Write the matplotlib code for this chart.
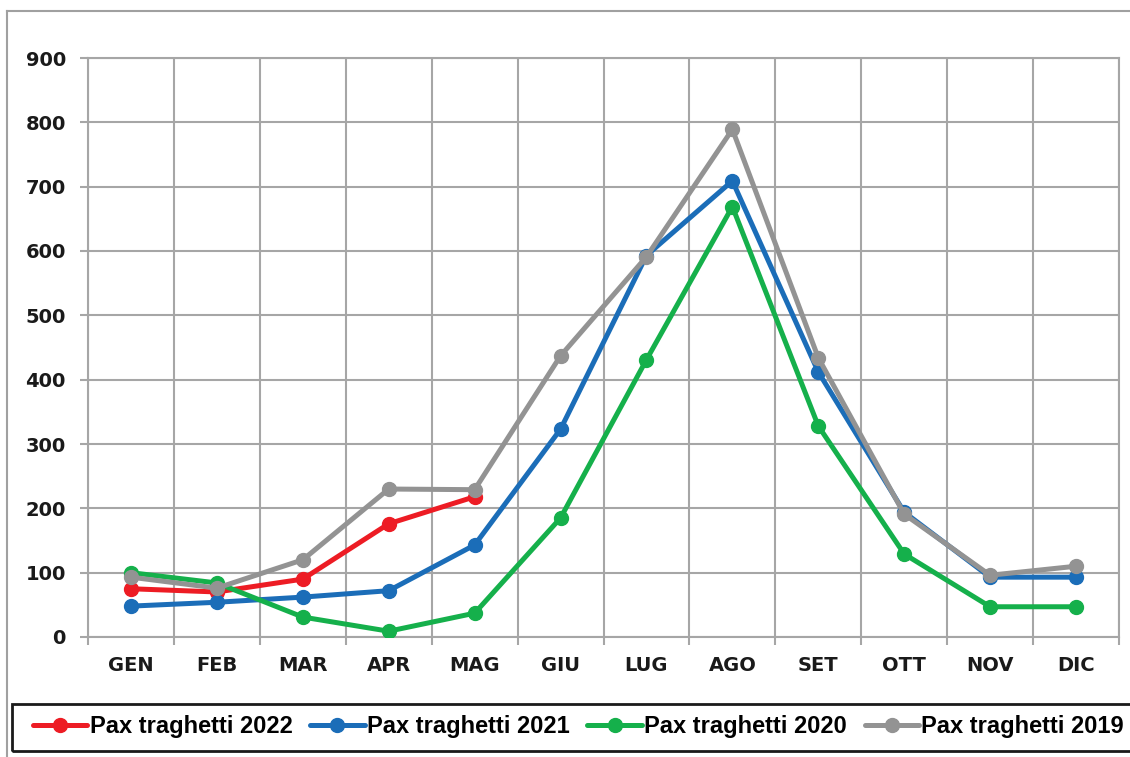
import numpy as np
import matplotlib.pyplot as plt
from matplotlib.lines import Line2D
from matplotlib.patches import Rectangle

# Dati mensili (migliaia di passeggeri)
mesi = ['GEN', 'FEB', 'MAR', 'APR', 'MAG', 'GIU', 'LUG', 'AGO', 'SET', 'OTT', 'NOV', 'DIC']
pax_2022 = [75, 70, 90, 176, 218]
pax_2021 = [48, 54, 62, 72, 143, 323, 593, 709, 412, 194, 93, 93]
pax_2020 = [100, 84, 31, 9, 37, 185, 431, 669, 328, 129, 47, 47]
pax_2019 = [93, 76, 120, 230, 229, 437, 591, 789, 434, 191, 96, 110]

serie = [
    ('Pax traghetti 2022', pax_2022, '#ed1c24'),
    ('Pax traghetti 2021', pax_2021, '#1b6db8'),
    ('Pax traghetti 2020', pax_2020, '#15b04b'),
    ('Pax traghetti 2019', pax_2019, '#939393'),
]

W, H = 1130, 757
fig = plt.figure(figsize=(W / 100, H / 100), dpi=100)
ax = fig.add_axes([88 / W, 1 - 637 / H, 1031 / W, 579 / H])

x = np.arange(len(mesi))
for nome, valori, colore in serie:
    ax.plot(x[:len(valori)], valori, color=colore, lw=3.6, marker='o',
            markersize=10, label=nome, solid_capstyle='round', zorder=3)

ax.set_xlim(-0.5, len(mesi) - 0.5)
ax.set_ylim(0, 900)
ax.set_yticks(np.arange(0, 901, 100))
ax.set_xticks(x)
ax.set_xticklabels(mesi)
ax.set_xticks(np.arange(-0.5, len(mesi), 1), minor=True)

grid_col = '#a6a6a6'
ax.grid(True, which='major', axis='y', color=grid_col, lw=1.5)
ax.grid(True, which='minor', axis='x', color=grid_col, lw=1.5)
ax.tick_params(axis='x', which='major', length=0, pad=14)
ax.tick_params(axis='x', which='minor', length=6, width=1.5, color=grid_col)
ax.tick_params(axis='y', length=6, width=1.5, color=grid_col, pad=10)
for lab in ax.get_xticklabels() + ax.get_yticklabels():
    lab.set_fontfamily('DejaVu Sans')
    lab.set_fontweight('bold')
    lab.set_fontsize(14)
    lab.set_color('#1a1a1a')
for sp in ax.spines.values():
    sp.set_color(grid_col)
    sp.set_linewidth(1.5)

# Cornice esterna
fig.add_artist(Line2D([7 / W, 1], [1 - 11 / H, 1 - 11 / H], color='#a0a0a0', lw=1.5))
fig.add_artist(Line2D([7 / W, 7 / W], [0, 1 - 11 / H], color='#a0a0a0', lw=1.5))

# Riquadro della legenda
fig.add_artist(Rectangle((12 / W, 1 - 751 / H), 1.0, 47 / H, transform=fig.transFigure,
                         fill=False, edgecolor='#1a1a1a', lw=2))

leg = fig.legend(loc='center left', bbox_to_anchor=(33 / W, 1 - 727 / H),
                 ncol=4, frameon=False,
                 handlelength=2.3, handletextpad=0.1, columnspacing=0.75,
                 borderaxespad=0, borderpad=0,
                 prop={'family': 'Liberation Sans', 'weight': 'bold', 'size': 17})

fig.savefig('out.png', dpi=100)
